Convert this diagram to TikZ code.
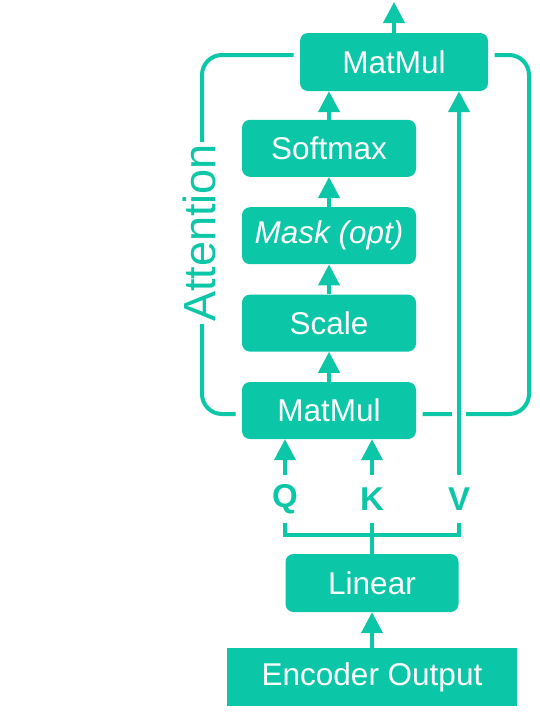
\documentclass[tikz,border=0pt]{standalone}
\usepackage{fontspec}
\setmainfont{Liberation Sans}
\usetikzlibrary{positioning}
\usetikzlibrary{arrows.meta, backgrounds}
\definecolor{attgreen}{RGB}{12,198,168}
\tikzset{
  blk/.style={rectangle,rounded corners=8pt,fill=attgreen,text=white,font=\fontsize{31.5}{37}\selectfont,minimum width=174pt,minimum height=57pt,inner sep=0pt},
  lbl/.style={text=attgreen,font=\fontsize{33}{39}\selectfont\bfseries,minimum height=48pt,inner sep=0pt},
  conn/.style={draw=attgreen,line width=4pt},
  arr/.style={conn,-{Triangle[width=21pt,length=21pt]}},
  gapped/.style={preaction={draw=white,line width=#1}},
}

\begin{document}
\begin{tikzpicture}[x=1pt,y=-1pt,node distance=30pt]
\useasboundingbox (0,0) rectangle (539,728);

\node[blk,minimum width=188pt,minimum height=58pt,gapped=13pt] (mm1) at (394,62) {MatMul};
\node[blk,gapped=13pt] (mm2) at (329,410.5) {MatMul};
\node[blk,above=of mm2] (scale) {Scale};
\node[blk,above=of scale] (mask) {\itshape Mask (opt)};
\node[blk,above=of mask] (sm) {Softmax};
\node[blk,minimum width=173pt,minimum height=58pt] (lin) at (372,583) {Linear};
\node[blk,sharp corners,minimum width=290pt,minimum height=58pt] (enc) at (372,677) {Encoder Output};

\node[lbl] (Q) at (285,499) {Q};
\node[lbl] (K) at (372,499) {K};
\node[lbl] (V) at (459,499) {V};
\coordinate (out) at (394,2);

% attention frame
\begin{scope}[on background layer]
\fill[white] (0,0) rectangle (539,728);
\coordinate (fnw) at (202,55);
\coordinate (fse) at (529,414);
\draw[conn,rounded corners=20pt] (fnw) rectangle (fse);
\end{scope}
\node[text=attgreen,fill=white,rotate=90,inner sep=2pt,font=\fontsize{45}{52}\selectfont] (att) at (199,233) {Attention};

\draw[arr] (mm1.north) -- (out);
\draw[arr] (sm.north) -- (sm.north |- mm1.south);
\draw[arr] (mask) -- (sm);
\draw[arr] (scale) -- (mask);
\draw[arr] (mm2) -- (scale);
\draw[arr] (Q.north) -- (Q.north |- mm2.south);
\draw[arr] (K.north) -- (K.north |- mm2.south);
\draw[arr,gapped=14pt] (V.north) -- (V.north |- mm1.south);
\draw[conn] (Q.south) -- ++(0,12) -| (V.south);
\draw[conn] (K.south) -- (K.south |- lin.north);
\draw[arr] (enc) -- (lin);

\end{tikzpicture}
\end{document}
